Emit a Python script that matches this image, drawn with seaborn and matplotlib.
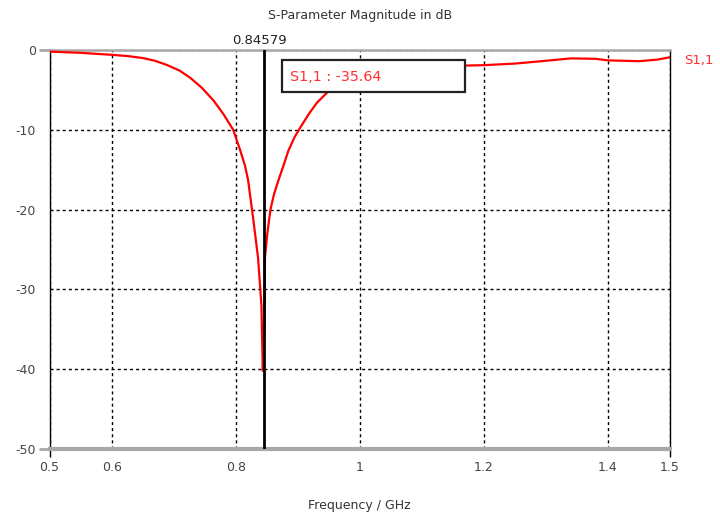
import matplotlib
matplotlib.use("Agg")
import matplotlib.pyplot as plt
from matplotlib.patches import Rectangle
import seaborn as sns
import pandas as pd

# S11 magnitude trace (GHz, dB)
freq_ghz = [0.5, 0.55, 0.6, 0.625, 0.65, 0.67, 0.69, 0.71, 0.727, 0.745,
            0.764, 0.78, 0.796, 0.807, 0.815, 0.82, 0.828, 0.836, 0.8415,
            0.8437, 0.8452, 0.84579, 0.8466, 0.8472, 0.851, 0.856, 0.862,
            0.869, 0.877, 0.885, 0.895, 0.905, 0.918, 0.931, 0.949, 0.97,
            1.0, 1.05, 1.1, 1.17, 1.2, 1.25, 1.3, 1.34, 1.38, 1.4, 1.45,
            1.48, 1.5]
s11_db = [-0.2, -0.35, -0.6, -0.75, -1.0, -1.35, -1.9, -2.6, -3.5, -4.7,
          -6.3, -8.0, -10.0, -12.5, -14.5, -16.3, -21.0, -26.0, -32.0,
          -40.2, -37.0, -35.64, -34.8, -26.0, -23.0, -20.0, -18.0,
          -16.3, -14.5, -12.6, -10.9, -9.6, -8.0, -6.6, -5.2, -4.3,
          -3.6, -2.9, -2.4, -1.95, -1.9, -1.7, -1.35, -1.05, -1.1, -1.3,
          -1.4, -1.2, -0.9]

marker_freq = 0.84579
marker_value = -35.64
series_name = "S1,1"

x_ticks = [0.5, 0.6, 0.8, 1.0, 1.2, 1.4, 1.5]
x_tick_labels = ["0.5", "0.6", "0.8", "1", "1.2", "1.4", "1.5"]
y_ticks = [0, -10, -20, -30, -40, -50]

sns.set_theme(style="white")
plt.rcParams["font.family"] = ["DejaVu Sans"]

df = pd.DataFrame({"Frequency": freq_ghz, "S11": s11_db})

fig = plt.figure(figsize=(7.2, 5.21), dpi=100)
ax = fig.add_axes([0.0688, 0.1382, 0.8618, 0.7658])

sns.lineplot(data=df, x="Frequency", y="S11", ax=ax, color="#ff0000",
             linewidth=1.6, zorder=3)

ax.set_xlim(0.5, 1.5)
ax.set_ylim(-50, 0)
ax.set_xticks(x_ticks)
ax.set_xticklabels(x_tick_labels)
ax.set_yticks(y_ticks)
ax.set_yticklabels([str(v) for v in y_ticks])

# dotted grid
ax.grid(True, color="black", linestyle=(0, (2.2, 2.2)), linewidth=1.0)
ax.set_axisbelow(True)

# frame: gray top/bottom, black sides
ax.spines["top"].set_color("#a8a8a8")
ax.spines["top"].set_linewidth(1.8)
ax.spines["bottom"].set_color("#a8a8a8")
ax.spines["bottom"].set_linewidth(3.0)
ax.spines["left"].set_color("black")
ax.spines["left"].set_linewidth(1.0)
ax.spines["right"].set_color("black")
ax.spines["right"].set_linewidth(1.0)

ax.tick_params(axis="x", direction="out", length=6, width=1.0, color="black",
               labelsize=9, labelcolor="#444444", pad=2.5, bottom=True)
ax.tick_params(axis="y", direction="out", length=8, width=2.0, color="#a8a8a8",
               labelsize=9, labelcolor="#444444", pad=2, left=True)
for t, v in zip(ax.xaxis.get_major_ticks(), x_ticks):
    if v not in (0.5, 1.5):
        t.tick1line.set_visible(False)
for t, v in zip(ax.yaxis.get_major_ticks(), y_ticks):
    if v not in (0, -50):
        t.tick1line.set_visible(False)

ax.set_xlabel("Frequency / GHz", fontsize=9, color="#333333", labelpad=18)
ax.set_ylabel("")
ax.set_title("S-Parameter Magnitude in dB", fontsize=9, color="#333333", pad=22)

# marker line and its frequency readout
ax.axvline(marker_freq, color="black", linewidth=2.0, zorder=4)
ax.annotate(f"{marker_freq:.5f}", xy=(marker_freq, 0), xytext=(-3, 2),
            textcoords="offset points", ha="center", va="bottom",
            fontsize=9.5, color="#222222", annotation_clip=False)

# marker value box
box = Rectangle((0.375, 0.895), 0.295, 0.08, transform=ax.transAxes,
                facecolor="white", edgecolor="#222222", linewidth=1.6,
                zorder=5)
ax.add_patch(box)
ax.text(0.387, 0.933, f"{series_name} : {marker_value:.2f}",
        transform=ax.transAxes, ha="left", va="center", fontsize=10.3,
        color="#ff3030", zorder=6)

# series label at right edge
ax.text(1.022, -1.3, series_name, transform=ax.get_yaxis_transform(),
        ha="left", va="center", fontsize=9.5, color="#ff3030", clip_on=False)

fig.savefig("out.png", dpi=100, facecolor="white")
